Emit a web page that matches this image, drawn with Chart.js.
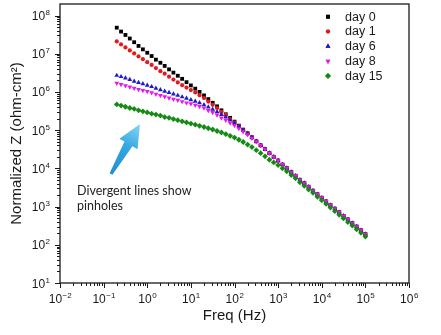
<!DOCTYPE html>
<html>
<head>
<meta charset="utf-8">
<script src="https://cdn.jsdelivr.net/npm/chart.js@4.4.1/dist/chart.umd.min.js"></script>
<style>
  html, body { margin: 0; padding: 0; background: #fff; }
  #wrap { width: 441px; height: 335px; position: relative; }
</style>
</head>
<body>
<div id="wrap"><canvas id="bode"></canvas></div>
<script>
// frequency sweep, Hz (10 points per decade)
const freqHz = [0.2, 0.251, 0.316, 0.398, 0.501, 0.631, 0.794,
  1, 1.26, 1.58, 2, 2.51, 3.16, 3.98, 5.01, 6.31, 7.94,
  10, 12.6, 15.8, 20, 25.1, 31.6, 39.8, 50.1, 63.1, 79.4,
  100, 126, 158, 200, 251, 316, 398, 501, 631, 794,
  1000, 1260, 1580, 2000, 2510, 3160, 3980, 5010, 6310, 7940,
  10000, 12600, 15800, 20000, 25100, 31600, 39800, 50100, 63100, 79400,
  100000];

// normalized |Z|, ohm-cm2
const day0 = [4.8e7, 3.8e7, 3.1e7, 2.5e7, 2.0e7, 1.6e7, 1.3e7,
  1.06e7, 8.7e6, 7.0e6, 5.8e6, 4.8e6, 3.9e6, 3.2e6, 2.65e6, 2.2e6, 1.8e6,
  1.48e6, 1.22e6, 1.0e6, 8.1e5, 6.5e5, 5.2e5, 4.2e5, 3.3e5, 2.6e5, 2.1e5,
  1.67e5, 1.31e5, 1.03e5, 8.3e4, 6.5e4, 5.1e4, 4.0e4, 3.2e4, 2.5e4, 2.0e4,
  1.6e4, 1.26e4, 1.02e4, 8.0e3, 6.4e3, 5.0e3, 4.1e3, 3.3e3, 2.6e3, 2.1e3,
  1.7e3, 1.36e3, 1.1e3, 880, 710, 570, 460, 370, 300, 240,
  190];
const day1 = [2.1e7, 1.75e7, 1.46e7, 1.22e7, 1.02e7, 8.5e6, 7.2e6,
  6.0e6, 5.1e6, 4.2e6, 3.5e6, 3.0e6, 2.5e6, 2.1e6, 1.77e6, 1.5e6, 1.3e6,
  1.12e6, 9.7e5, 8.2e5, 6.9e5, 5.6e5, 4.6e5, 3.8e5, 3.0e5, 2.5e5, 1.96e5,
  1.6e5, 1.27e5, 1.01e5, 8.1e4, 6.4e4, 5.1e4, 4.0e4, 3.2e4, 2.5e4, 2.0e4,
  1.6e4, 1.26e4, 1.02e4, 8.0e3, 6.4e3, 5.0e3, 4.1e3, 3.3e3, 2.6e3, 2.1e3,
  1.7e3, 1.36e3, 1.1e3, 880, 710, 570, 460, 370, 300, 240,
  190];
const day6 = [2.7e6, 2.5e6, 2.3e6, 2.1e6, 1.9e6, 1.75e6, 1.62e6,
  1.49e6, 1.37e6, 1.25e6, 1.14e6, 1.04e6, 9.6e5, 8.8e5, 8.1e5, 7.4e5, 6.8e5,
  6.2e5, 5.7e5, 5.2e5, 4.6e5, 4.0e5, 3.5e5, 3.0e5, 2.55e5, 2.2e5, 1.83e5,
  1.54e5, 1.25e5, 1.01e5, 8.2e4, 6.5e4, 5.1e4, 4.0e4, 3.2e4, 2.5e4, 2.0e4,
  1.6e4, 1.26e4, 1.02e4, 8.0e3, 6.4e3, 5.0e3, 4.1e3, 3.3e3, 2.6e3, 2.1e3,
  1.7e3, 1.36e3, 1.1e3, 880, 710, 570, 460, 370, 300, 240,
  190];
const day8 = [1.7e6, 1.57e6, 1.46e6, 1.36e6, 1.26e6, 1.17e6, 1.1e6,
  1.03e6, 9.6e5, 8.8e5, 8.1e5, 7.5e5, 7.0e5, 6.5e5, 6.1e5, 5.6e5, 5.2e5,
  4.9e5, 4.5e5, 4.2e5, 3.8e5, 3.3e5, 2.9e5, 2.5e5, 2.1e5, 1.83e5, 1.54e5,
  1.33e5, 1.1e5, 9.1e4, 7.6e4, 6.2e4, 5.0e4, 4.0e4, 3.2e4, 2.5e4, 2.0e4,
  1.6e4, 1.26e4, 1.02e4, 8.0e3, 6.4e3, 5.0e3, 4.1e3, 3.3e3, 2.6e3, 2.1e3,
  1.7e3, 1.36e3, 1.1e3, 880, 710, 570, 460, 370, 300, 240,
  190];
const day15 = [4.7e5, 4.4e5, 4.1e5, 3.8e5, 3.6e5, 3.3e5, 3.1e5,
  2.9e5, 2.7e5, 2.55e5, 2.4e5, 2.2e5, 2.1e5, 1.95e5, 1.82e5, 1.7e5, 1.59e5,
  1.49e5, 1.39e5, 1.3e5, 1.21e5, 1.12e5, 1.04e5, 9.5e4, 8.7e4, 7.9e4, 7.1e4,
  6.4e4, 5.6e4, 4.9e4, 4.2e4, 3.6e4, 3.0e4, 2.5e4, 2.06e4, 1.68e4, 1.43e4,
  1.22e4, 1.0e4, 8.4e3, 6.7e3, 5.5e3, 4.3e3, 3.5e3, 2.8e3, 2.3e3, 1.8e3,
  1.46e3, 1.17e3, 940, 760, 610, 490, 390, 320, 255, 205,
  165];

const seriesNames = ['day 0', 'day 1', 'day 6', 'day 8', 'day 15'];
const seriesData = [day0, day1, day6, day8, day15];

// axis decades shown as 10^n labels
const xTickExp = [-2, -1, 0, 1, 2, 3, 4, 5, 6];
const yTickExp = [1, 2, 3, 4, 5, 6, 7, 8];

const styles = [
  { color: '#000000', pointStyle: 'rect', radius: 2.7, rotation: 0 },
  { color: '#e3191c', pointStyle: 'circle', radius: 2.1, rotation: 0 },
  { color: '#1c1cc8', pointStyle: 'triangle', radius: 2.8, rotation: 0 },
  { color: '#e619e6', pointStyle: 'triangle', radius: 2.8, rotation: 180 },
  { color: '#158a15', pointStyle: 'rectRot', radius: 2.9, rotation: 0 }
];

const datasets = seriesNames.map((name, i) => ({
  label: name,
  data: freqHz.map((f, k) => ({ x: f, y: seriesData[i][k] })),
  showLine: false,
  pointStyle: styles[i].pointStyle,
  pointRotation: styles[i].rotation,
  pointRadius: styles[i].radius,
  pointBackgroundColor: styles[i].color,
  pointBorderWidth: 0,
  order: seriesNames.length - i   // later days drawn on top
}));

const FONT = '"Liberation Sans", Arial, sans-serif';

function drawPow(ctx, exp, x, y, align) {
  // "10" with raised exponent; y is the baseline of "10"
  ctx.font = '12px ' + FONT;
  const wb = ctx.measureText('10').width;
  ctx.font = '8px ' + FONT;
  const es = exp < 0 ? '\u2212' + Math.abs(exp) : String(exp);
  const we = ctx.measureText(es).width;
  let x0 = align === 'right' ? x - wb - we - 0.5 : x - (wb + we) / 2;
  ctx.textAlign = 'left';
  ctx.textBaseline = 'alphabetic';
  ctx.font = '12px ' + FONT;
  ctx.fillText('10', x0, y);
  ctx.font = '8px ' + FONT;
  ctx.fillText(es, x0 + wb + 0.5, y - 5);
}

const axesAndNotes = {
  id: 'axesAndNotes',
  afterDraw(chart) {
    const { ctx, chartArea: a, scales: { x, y } } = chart;
    ctx.save();

    // frame
    ctx.strokeStyle = '#1a1a1a';
    ctx.lineWidth = 1.3;
    ctx.strokeRect(a.left, a.top, a.right - a.left, a.bottom - a.top);

    // tick marks
    ctx.lineWidth = 1;
    ctx.beginPath();
    xTickExp.forEach(e => {
      const px = Math.round(x.getPixelForValue(10 ** e)) + 0.5;
      ctx.moveTo(px, a.bottom); ctx.lineTo(px, a.bottom + 5);
      for (let m = 2; m <= 9; m++) {
        const v = m * 10 ** e;
        if (v >= x.max) break;
        const q = Math.round(x.getPixelForValue(v)) + 0.5;
        ctx.moveTo(q, a.bottom); ctx.lineTo(q, a.bottom + 3);
      }
    });
    yTickExp.forEach(e => {
      const py = Math.round(y.getPixelForValue(10 ** e)) + 0.5;
      ctx.moveTo(a.left, py); ctx.lineTo(a.left - 5, py);
      for (let m = 2; m <= 9; m++) {
        const v = m * 10 ** e;
        if (v >= y.max) break;
        const q = Math.round(y.getPixelForValue(v)) + 0.5;
        ctx.moveTo(a.left, q); ctx.lineTo(a.left - 3, q);
      }
    });
    ctx.stroke();

    // tick labels
    ctx.fillStyle = '#1a1a1a';
    xTickExp.forEach(e => drawPow(ctx, e, x.getPixelForValue(10 ** e), a.bottom + 20, 'center'));
    yTickExp.forEach(e => drawPow(ctx, e, a.left - 10, y.getPixelForValue(10 ** e) + 4.5, 'right'));

    // legend
    const lx = a.right - 81, tx = a.right - 64;
    ctx.font = '12.5px ' + FONT;
    ctx.textAlign = 'left';
    ctx.textBaseline = 'middle';
    chart.data.datasets.forEach((ds, i) => {
      const ly = a.top + 12.7 + i * 14.8;
      ctx.fillStyle = styles[i].color;
      Chart.helpers.drawPoint(ctx, {
        pointStyle: styles[i].pointStyle, rotation: styles[i].rotation,
        radius: styles[i].radius, borderWidth: 0
      }, lx, ly);
      ctx.fill();
      ctx.fillStyle = '#1a1a1a';
      ctx.fillText(ds.label, tx, ly + 0.5);
    });

    // annotation arrow
    const tail = { x: a.left + 51, y: a.top + 170 };
    const tip = { x: a.left + 80, y: a.top + 120 };
    const dx = tip.x - tail.x, dy = tip.y - tail.y;
    const len = Math.hypot(dx, dy);
    const u = { x: dx / len, y: dy / len }, n = { x: -u.y, y: u.x };
    const headLen = 23, headW = 10.5, shaftTail = 1.6, shaftHead = 4.6;
    const base = { x: tip.x - u.x * headLen, y: tip.y - u.y * headLen };
    const p = (c, s) => [c.x + n.x * s, c.y + n.y * s];
    const grad = ctx.createLinearGradient(tail.x, tail.y, tip.x, tip.y);
    grad.addColorStop(0, '#1f8fd0');
    grad.addColorStop(0.55, '#33a8e2');
    grad.addColorStop(1, '#8ad6f6');
    ctx.fillStyle = grad;
    ctx.beginPath();
    ctx.moveTo(...p(tail, shaftTail));
    ctx.lineTo(...p(base, shaftHead));
    ctx.lineTo(...p(base, headW));
    ctx.lineTo(tip.x, tip.y);
    ctx.lineTo(...p(base, -headW));
    ctx.lineTo(...p(base, -shaftHead));
    ctx.lineTo(...p(tail, -shaftTail));
    ctx.closePath();
    ctx.fill();

    // annotation text
    ctx.fillStyle = '#222';
    ctx.font = '12.5px Lato, "Open Sans", sans-serif';
    ctx.textAlign = 'left';
    ctx.textBaseline = 'alphabetic';
    ctx.fillText('Divergent lines show', a.left + 17, a.top + 191);
    ctx.fillText('pinholes', a.left + 17, a.top + 206);

    ctx.restore();
  }
};

new Chart(document.getElementById('bode'), {
  type: 'scatter',
  data: { datasets },
  options: {
    responsive: true,
    maintainAspectRatio: false,
    animation: false,
    layout: { padding: { top: 3, right: 32, left: 0, bottom: 0 } },
    plugins: { legend: { display: false }, tooltip: { enabled: false } },
    scales: {
      x: {
        type: 'logarithmic', position: 'bottom', min: 0.01, max: 1e6,
        ticks: { display: false }, grid: { display: false }, border: { display: false },
        title: { display: true, text: 'Freq (Hz)', color: '#1a1a1a',
                 font: { family: FONT, size: 15 }, padding: { top: 0, bottom: 10 } },
        afterFit(scale) { scale.height = 52; }
      },
      y: {
        type: 'logarithmic', position: 'left', min: 10, max: 2e8,
        ticks: { display: false }, grid: { display: false }, border: { display: false },
        title: { display: true, text: 'Normalized Z (ohm-cm\u00b2)', color: '#1a1a1a',
                 font: { family: FONT, size: 15 }, padding: { top: 8, bottom: 0 } },
        afterFit(scale) { scale.width = 60; }
      }
    }
  },
  plugins: [axesAndNotes]
});
</script>
</body>
</html>
